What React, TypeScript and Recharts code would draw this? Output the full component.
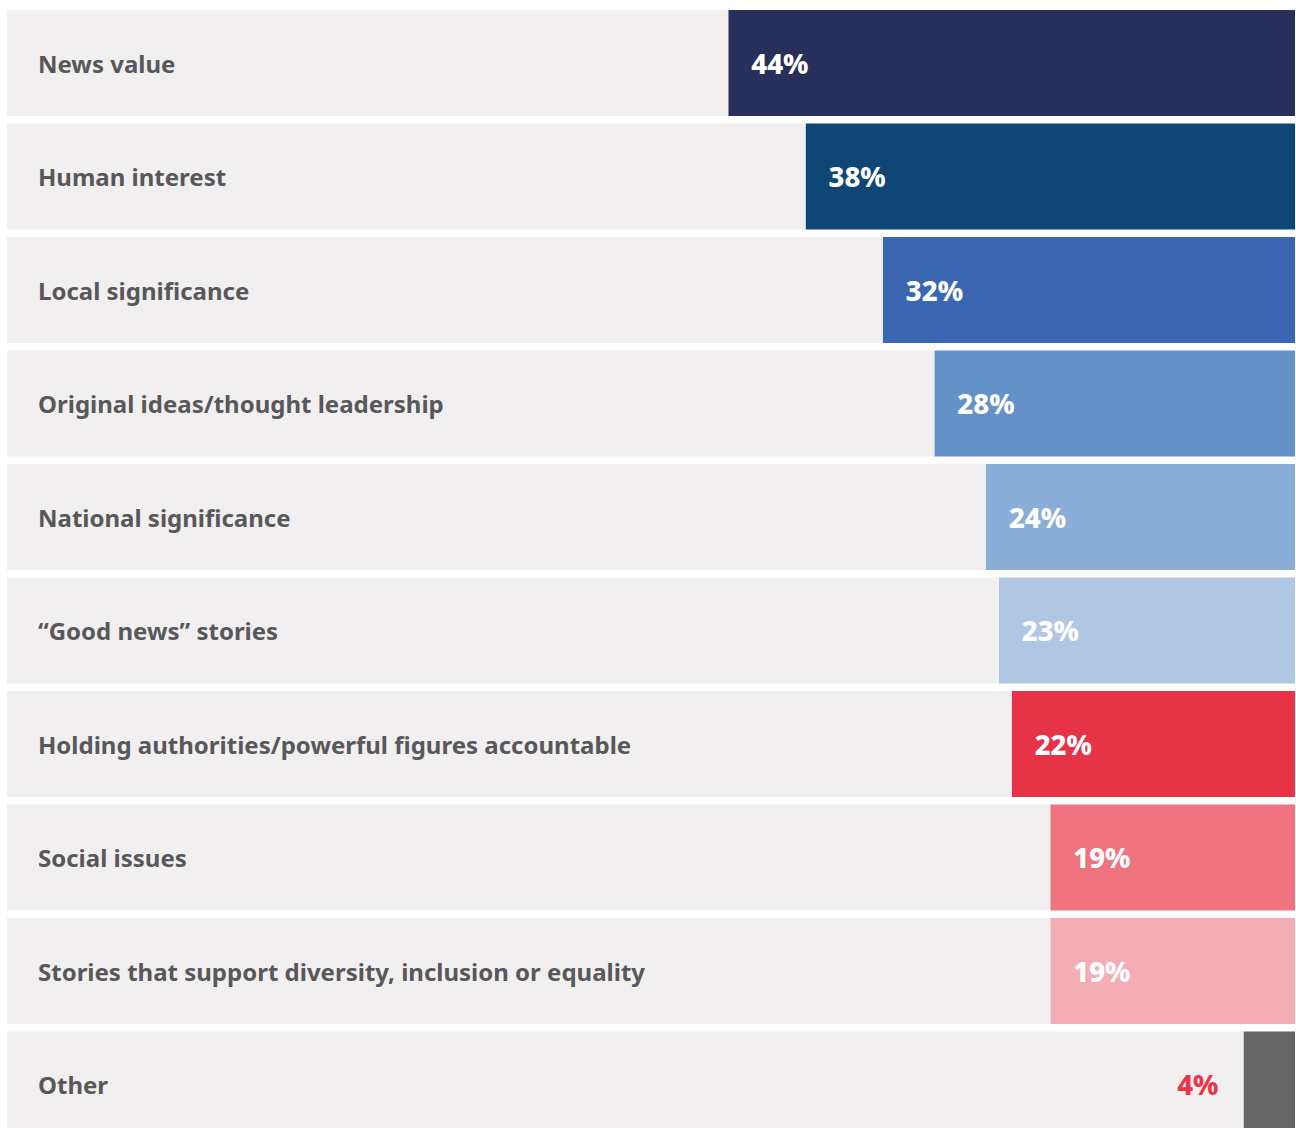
import React from 'react';
import { BarChart, Bar, XAxis, YAxis, Cell, LabelList } from 'recharts';

const categories = [
  'News value',
  'Human interest',
  'Local significance',
  'Original ideas/thought leadership',
  'National significance',
  '\u201CGood news\u201D stories',
  'Holding authorities/powerful figures accountable',
  'Social issues',
  'Stories that support diversity, inclusion or equality',
  'Other',
];
const values = [44, 38, 32, 28, 24, 23, 22, 19, 19, 4];
const colors = ['#272f5a', '#0e4675', '#3b67b2', '#6392c9', '#8aaed7', '#b0c7e3', '#e63346', '#f07380', '#f5adb5', '#656566'];

const data = categories.map((name, i) => ({ name, value: values[i], rest: 100 - values[i] }));

const FONT = '"Noto Sans", Lato, sans-serif';

const NameLabel = (props: any) => {
  const { x, y, width, height, value } = props;
  const left = Math.min(x, x + width);
  return (
    <text x={left + 31} y={y + height / 2} dominantBaseline="central" textAnchor="start"
      fill="#58585a" fontSize={24} fontWeight={700} fontFamily={FONT}>
      {value}
    </text>
  );
};

const ValueLabel = (props: any) => {
  const { x, y, width, height, value } = props;
  const left = Math.min(x, x + width);
  const w = Math.abs(width);
  const inside = w > 100;
  return (
    <text x={inside ? left + 23 : left - 25} y={y + height / 2} dominantBaseline="central"
      textAnchor={inside ? 'start' : 'end'} fill={inside ? '#ffffff' : '#e8364b'}
      fontSize={27.5} fontWeight={800} fontFamily={FONT}>
      {value}%
    </text>
  );
};

export default function App() {
  return (
    <div style={{ position: 'absolute', left: 0, top: 0, background: '#ffffff' }}>
      <BarChart width={1296} height={1141} data={data} layout="vertical"
        margin={{ top: 6, right: 1, left: 7, bottom: 0 }}>
        <XAxis type="number" domain={[0, 100]} reversed hide />
        <YAxis type="category" dataKey="name" hide />
        <Bar dataKey="value" stackId="a" barSize={106} isAnimationActive={false}>
          {data.map((d, i) => (
            <Cell key={d.name} fill={colors[i]} />
          ))}
          <LabelList dataKey="value" content={ValueLabel} />
        </Bar>
        <Bar dataKey="rest" stackId="a" barSize={106} fill="#f1eff0" isAnimationActive={false}>
          <LabelList dataKey="name" content={NameLabel} />
        </Bar>
      </BarChart>
    </div>
  );
}
